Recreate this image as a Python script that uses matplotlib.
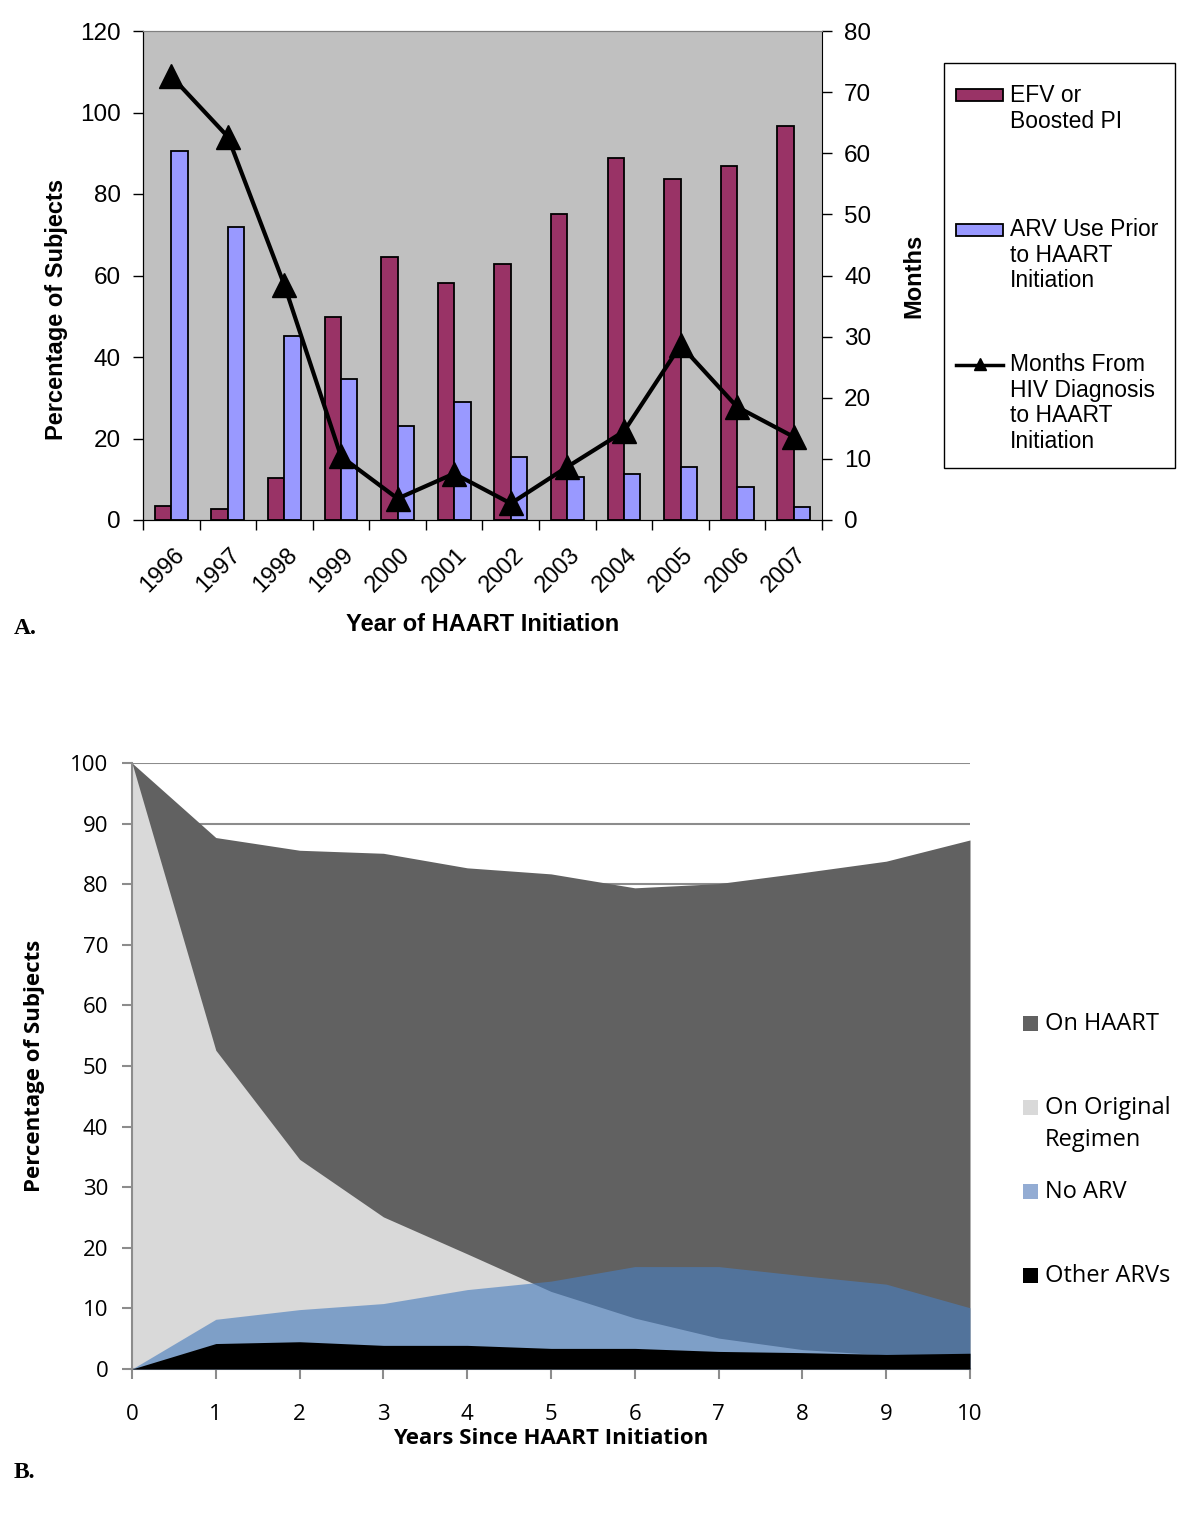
import numpy as np
import matplotlib.pyplot as plt
from matplotlib.patches import Rectangle
from matplotlib.lines import Line2D

# ---- panel A data ----
years = ['1996', '1997', '1998', '1999', '2000', '2001',
         '2002', '2003', '2004', '2005', '2006', '2007']
efv_boosted_pi = [3.4, 2.6, 10.4, 49.9, 64.6, 58.2, 62.9, 75.2, 88.8, 83.7, 86.9, 96.8]
arv_prior = [90.6, 71.8, 45.1, 34.6, 23.1, 29.0, 15.4, 10.6, 11.3, 12.9, 8.2, 3.1]
months_dx_to_haart = [72.6, 62.7, 38.4, 10.4, 3.5, 7.6, 2.7, 8.7, 14.5, 28.6, 18.5, 13.6]

# ---- panel B data ----
years_since = [0, 1, 2, 3, 4, 5, 6, 7, 8, 9, 10]
on_haart = [100, 87.7, 85.6, 85.1, 82.7, 81.7, 79.4, 80.1, 81.9, 83.8, 87.3]
on_original = [100, 52.6, 34.6, 25.1, 19.0, 12.8, 8.4, 5.1, 3.2, 2.3, 1.6]
no_arv = [0, 8.2, 9.8, 10.8, 13.1, 14.5, 16.9, 16.9, 15.4, 14.0, 10.1]
other_arvs = [0, 4.2, 4.5, 3.9, 3.9, 3.4, 3.4, 2.9, 2.7, 2.4, 2.6]

W, H = 1200, 1534


def box(l, t, r, b):
    # pixel box -> figure fraction rect
    return [l / W, 1 - b / H, (r - l) / W, (b - t) / H]


def fx(x):
    return x / W


def fy(y):
    return 1 - y / H


fig = plt.figure(figsize=(12, 15.34), dpi=100)
fig.patch.set_facecolor('white')

# ================= Panel A =================
arial = 'Liberation Sans'
axA = fig.add_axes(box(143, 31, 822, 520))
axA.set_facecolor('#c0c0c0')
x = np.arange(len(years))
bw = 0.29
axA.bar(x - bw / 2, efv_boosted_pi, bw, color='#993366', edgecolor='black', linewidth=1.3, zorder=2)
axA.bar(x + bw / 2, arv_prior, bw, color='#9999ff', edgecolor='black', linewidth=1.3, zorder=2)
axA.set_xlim(-0.5, len(years) - 0.5)
axA.set_ylim(0, 120)
axA.set_yticks(range(0, 121, 20))
axA.set_xticks(x + 0.03)
axA.set_xticklabels(years, rotation=45, ha='right', va='top', rotation_mode='anchor',
                    fontsize=17, family=arial)
axA.set_xticks(np.arange(-0.5, len(years), 1), minor=True)
axA.tick_params(axis='x', which='major', length=0, pad=17)
axA.tick_params(axis='x', which='minor', length=7, width=1, direction='out')
axA.tick_params(axis='y', length=7, width=1, direction='out', labelsize=17.5, pad=9)
for lab in axA.get_yticklabels():
    lab.set_family(arial)
axA.spines['top'].set_color('#808080')
axA.spines['right'].set_visible(False)
axA.set_ylabel('Percentage of Subjects', fontsize=17, fontweight='bold', family=arial)
axA.yaxis.set_label_coords(-0.11, 0.43)
axA.set_xlabel('Year of HAART Initiation', fontsize=17, fontweight='bold', family=arial, labelpad=12)

axA2 = axA.twinx()
axA2.plot(x, months_dx_to_haart, color='black', linewidth=3, marker='^', markersize=17, zorder=3)
axA2.set_ylim(0, 80)
axA2.set_yticks(range(0, 81, 10))
axA2.tick_params(axis='y', length=7, width=1, direction='out', labelsize=17.5, pad=9)
for lab in axA2.get_yticklabels():
    lab.set_family(arial)
axA2.spines['top'].set_color('#808080')
axA2.set_ylabel('Months', fontsize=17, fontweight='bold', family=arial, labelpad=22)

# legend A (drawn by hand to mimic the boxed layout)
fig.patches.append(Rectangle((fx(944), fy(468)), fx(1175) - fx(944), fy(63) - fy(468),
                             transform=fig.transFigure, facecolor='white', edgecolor='black',
                             linewidth=1))
fig.patches.append(Rectangle((fx(956), fy(101)), fx(1003) - fx(956), fy(89) - fy(101),
                             transform=fig.transFigure, facecolor='#993366', edgecolor='black',
                             linewidth=1.3))
fig.patches.append(Rectangle((fx(956), fy(236)), fx(1003) - fx(956), fy(224) - fy(236),
                             transform=fig.transFigure, facecolor='#9999ff', edgecolor='black',
                             linewidth=1.3))
fig.lines.append(Line2D([fx(956), fx(1003)], [fy(365), fy(365)], transform=fig.transFigure,
                        color='black', linewidth=2.5))
fig.lines.append(Line2D([fx(980)], [fy(364)], transform=fig.transFigure,
                        color='black', marker='^', markersize=9, linestyle='none'))
legA = [(84, 'EFV or\nBoosted PI'), (218, 'ARV Use Prior\nto HAART\nInitiation'),
        (353, 'Months From\nHIV Diagnosis\nto HAART\nInitiation')]
for ty, txt in legA:
    fig.text(fx(1010), fy(ty), txt, fontsize=16.5, family=arial, va='top', ha='left',
             linespacing=1.15)

fig.text(fx(14), fy(628), 'A.', fontsize=17, fontweight='bold', family='Liberation Serif',
         va='center', ha='left')

# ================= Panel B =================
calib = 'Open Sans'
axB = fig.add_axes(box(132, 763, 970, 1369))
axB.set_xlim(0, 10)
axB.set_ylim(0, 100)
axB.set_yticks(range(0, 101, 10))
axB.set_xticks(years_since)
axB.yaxis.grid(True, color='#8c8c8c', linewidth=1.5, zorder=0)
axB.set_axisbelow(True)
axB.fill_between(years_since, on_haart, color='#616161', linewidth=0, zorder=1)
axB.fill_between(years_since, on_original, color='#d9d9d9', linewidth=0, zorder=2)
axB.fill_between(years_since, no_arv, color='#4a7ebe', alpha=0.63, linewidth=0, zorder=3)
axB.fill_between(years_since, other_arvs, color='black', linewidth=0, zorder=4)
for s in ['top', 'right']:
    axB.spines[s].set_visible(False)
for s in ['left', 'bottom']:
    axB.spines[s].set_color('#8c8c8c')
    axB.spines[s].set_linewidth(1.5)
axB.tick_params(axis='both', length=7, width=1.5, color='#8c8c8c', direction='out', labelsize=16)
axB.tick_params(axis='y', pad=10)
axB.tick_params(axis='x', pad=18)
for lab in axB.get_xticklabels() + axB.get_yticklabels():
    lab.set_family(calib)
axB.set_ylabel('Percentage of Subjects', fontsize=16, fontweight='bold', family=calib, labelpad=18)
axB.set_xlabel('Years Since HAART Initiation', fontsize=16, fontweight='bold', family=calib,
               labelpad=2)

legB = [(1024, '#616161', 'On HAART', None), (1108, '#d9d9d9', 'On Original', 'Regimen'),
        (1192, '#93acd3', 'No ARV', None), (1276, 'black', 'Other ARVs', None)]
for ty, col, t1, t2 in legB:
    fig.patches.append(Rectangle((fx(1023), fy(ty + 7)), fx(1038) - fx(1023), fy(ty - 8) - fy(ty + 7),
                                 transform=fig.transFigure, facecolor=col, edgecolor='none'))
    fig.text(fx(1045), fy(ty), t1, fontsize=17, family=calib, va='center', ha='left')
    if t2:
        fig.text(fx(1045), fy(ty + 32), t2, fontsize=17, family=calib, va='center', ha='left')

fig.text(fx(14), fy(1473), 'B.', fontsize=17, fontweight='bold', family='Liberation Serif',
         va='center', ha='left')

fig.savefig('out.png', dpi=100)
